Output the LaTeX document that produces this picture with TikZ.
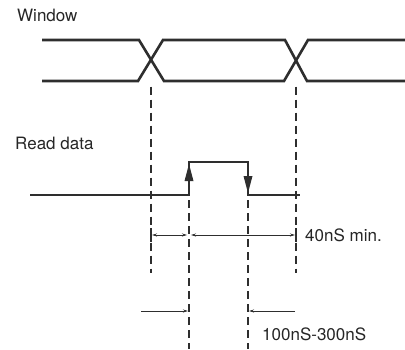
\documentclass[tikz,border=0pt]{standalone}
\usepackage{fontspec}
\setmainfont{TeX Gyre Heros}
\usetikzlibrary{arrows.meta,positioning}

\begin{document}
\begin{tikzpicture}[x=1pt,y=-1pt,
  sig/.style={line width=2.6pt,color=black!82,line join=miter},
  guide/.style={line width=1.3pt,color=black!82,dash pattern=on 8pt off 5pt},
  dim/.style={line width=0.8pt,color=black!82},
  lbl/.style={font=\fontsize{17}{19}\selectfont,text=black!85,inner sep=0pt,anchor=west}]
\useasboundingbox (0,0) rectangle (405,349);

% labels
\node[lbl] (lwin) at (17,15) {Window};
\node[lbl] (lrd) at (15,143) {Read data};

% window eye
\coordinate (w0) at (151,60.5);
\coordinate (w1) at (296,60.5);
\draw[sig] (42,40) -- (139,40) -- (164,81) -- (284,81) -- (308,40) -- (405,40);
\draw[sig] (42,81) -- (138,81) -- (163,40) -- (285,40) -- (307,81) -- (405,81);

% read data pulse
\coordinate (r0) at (189,195);
\coordinate (r1) at (248,195);
\draw[sig] (30,195) -- (r0) -- (189,162) -- (248,162) -- (r1) -- (300,195);
\fill[black!82] (189,164) -- (184.5,181) -- (193.5,181) -- cycle;
\fill[black!82] (248,193) -- (243.5,176) -- (252.5,176) -- cycle;

% guide lines
\foreach \c in {w0,w1}
  \draw[guide] ([yshift=-26pt]\c) -- ++(0,186);
\foreach \c in {r0,r1}
  \draw[guide] ([yshift=-5pt]\c) -- (\c |- 0,349);

% 40nS window
\coordinate (d0) at (151,235);
\coordinate (d1) at (189,235);
\coordinate (d2) at (296,235);
\draw[dim,{Stealth[length=5pt,width=3pt]}-{Stealth[length=5pt,width=3pt]}] ([xshift=1pt]d0) -- ([xshift=-2pt]d1);
\draw[dim,{Stealth[length=5pt,width=3pt]}-{Stealth[length=5pt,width=3pt]}] ([xshift=2pt]d1) -- ([xshift=-1pt]d2);
\foreach \c in {d0,d2}
  \draw[dim,line width=1.3pt] ([yshift=-7pt]\c) -- ([yshift=7pt]\c);
\node[lbl] (l40) at (305,235) {40nS min.};

% 100nS-300nS pulse width
\coordinate (p0) at (189,311);
\coordinate (p1) at (248,311);
\draw[dim,-{Stealth[length=5pt,width=3pt]}] (141,311) -- ([xshift=-1pt]p0);
\draw[dim,-{Stealth[length=5pt,width=3pt]}] (295,311) -- ([xshift=1pt]p1);
\node[lbl] (l100) at (262,334) {100nS-300nS};
\end{tikzpicture}
\end{document}
